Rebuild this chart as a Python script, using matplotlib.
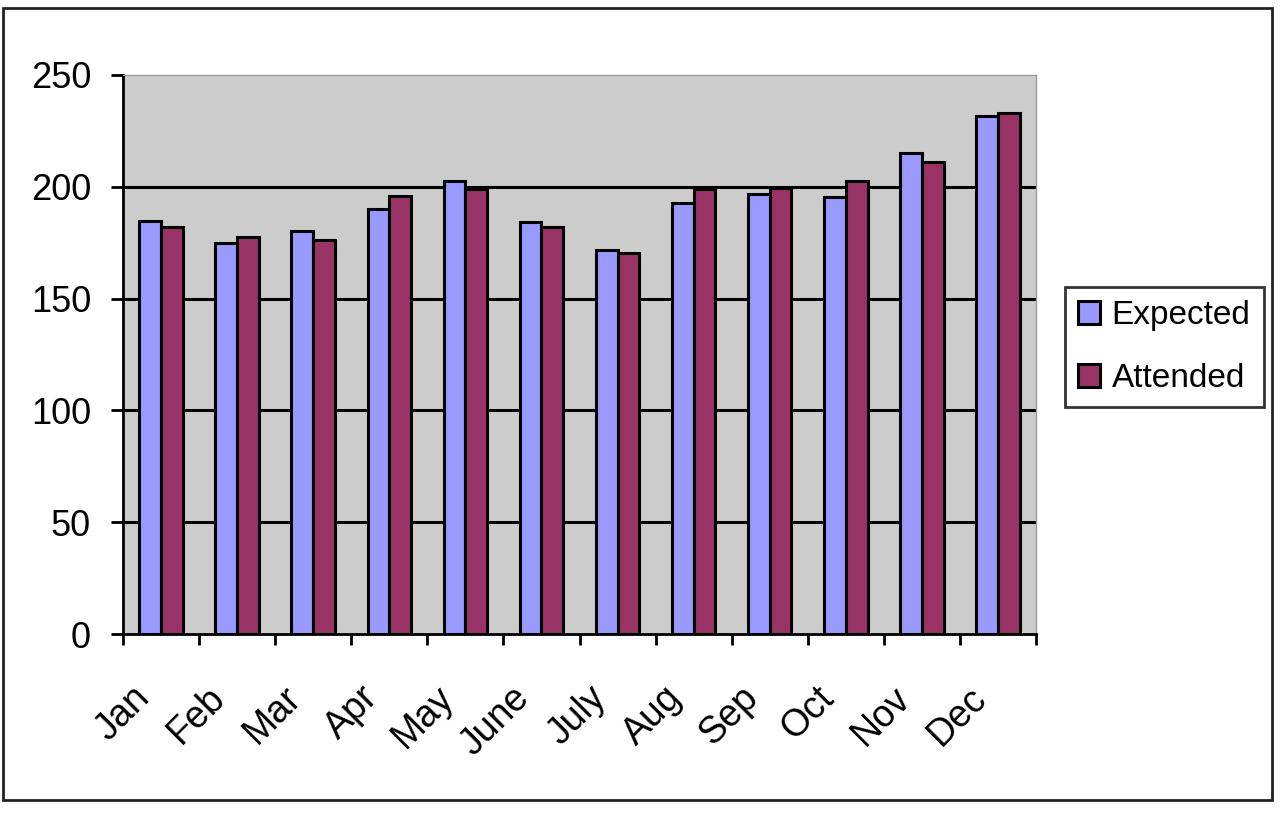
import numpy as np
import matplotlib
matplotlib.use("Agg")
import matplotlib.pyplot as plt
from matplotlib.transforms import ScaledTranslation
from matplotlib.patches import Rectangle

months = ["Jan", "Feb", "Mar", "Apr", "May", "June",
          "July", "Aug", "Sep", "Oct", "Nov", "Dec"]
expected = [184.5, 174.8, 180.2, 190, 202.4, 184.2,
            171.8, 192.6, 196.8, 195.3, 215, 231.6]
attended = [182, 177.5, 176.3, 195.7, 199, 181.8,
            170.4, 199, 199.6, 202.4, 210.9, 232.8]

plt.rcParams['font.family'] = ['Liberation Sans', 'DejaVu Sans']

fig = plt.figure(figsize=(12.8, 8.14), dpi=100)
ax = fig.add_axes([123 / 1280, 1 - 634 / 814, (1036 - 123) / 1280, (634 - 75) / 814])

# outer frame of the chart
fig.patches.append(Rectangle((3 / 1280, 1 - 800 / 814), (1272 - 3) / 1280, (800 - 8) / 814,
                             transform=fig.transFigure, fill=False,
                             edgecolor='#222222', linewidth=2))

x = np.arange(len(months))
w = 1 / 3.5
ax.bar(x - w / 2, expected, w, color='#9999FF', edgecolor='black', linewidth=2.2,
       label='Expected', zorder=3)
ax.bar(x + w / 2, attended, w, color='#993366', edgecolor='black', linewidth=2.2,
       label='Attended', zorder=3)

ax.set_facecolor('#CCCCCC')
ax.set_xlim(-0.5, len(months) - 0.5)
ax.set_ylim(0, 250)
ax.set_yticks([0, 50, 100, 150, 200, 250])
for yv in [50, 100, 150, 200]:
    ax.axhline(yv, color='black', linewidth=2.2, zorder=1)

for s in ['top', 'right']:
    ax.spines[s].set_color('#999999')
    ax.spines[s].set_linewidth(1)
for s in ['left', 'bottom']:
    ax.spines[s].set_color('black')
    ax.spines[s].set_linewidth(2)

ax.tick_params(axis='y', length=9, width=2, pad=14, labelsize=26)
ax.set_xticks(x)
ax.set_xticklabels(months, rotation=45, ha='right', va='top', rotation_mode='anchor', fontsize=27)
ax.tick_params(axis='x', which='major', length=0, pad=33)
ax.set_xticks(np.arange(len(months) + 1) - 0.5, minor=True)
ax.tick_params(axis='x', which='minor', length=8, width=2)
shift = ScaledTranslation(-0.30, 0, fig.dpi_scale_trans)
for lbl in ax.get_xticklabels():
    lbl.set_transform(lbl.get_transform() + shift)

leg = ax.legend(loc='upper left', bbox_to_anchor=(1065 / 1280, 1 - 287 / 814),
                bbox_transform=fig.transFigure, borderaxespad=0, fontsize=24, frameon=True,
                fancybox=False, edgecolor='black', handlelength=0.65, handleheight=0.7,
                handletextpad=0.35, labelspacing=0.95, borderpad=0.4)
leg.get_frame().set_linewidth(2)

fig.savefig("out.png", dpi=100)
